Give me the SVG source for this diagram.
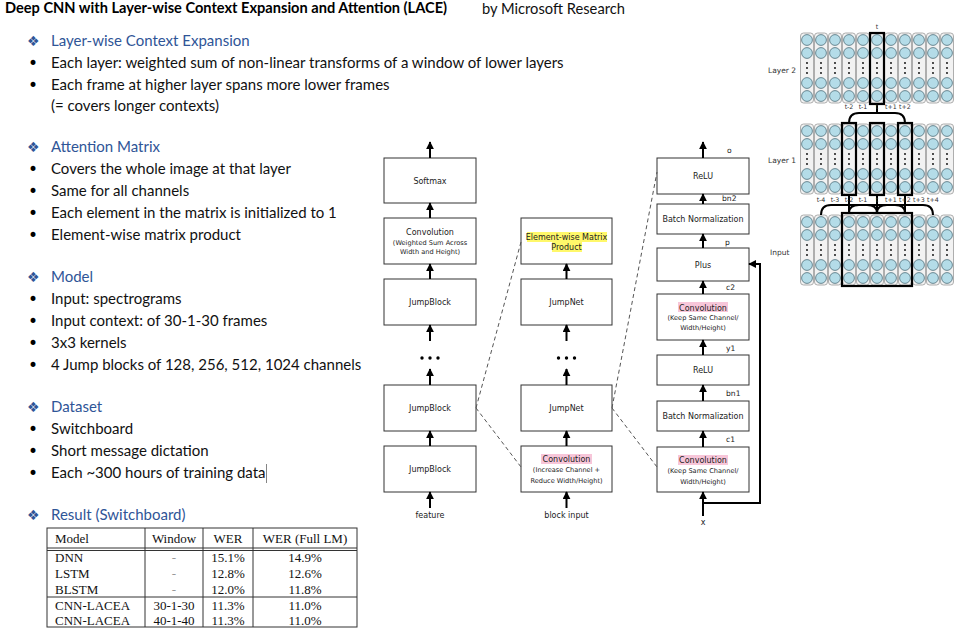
<svg xmlns="http://www.w3.org/2000/svg" xmlns:xlink="http://www.w3.org/1999/xlink" width="963" height="637" viewBox="0 0 963 637">
<defs>
<style>
.t{font-family:Lato,"Open Sans","Liberation Sans",sans-serif;font-size:15px;fill:#111}
.ti{font-family:Lato,"Liberation Sans",sans-serif;font-size:14.6px;font-weight:bold;fill:#000}
.h{font-family:Lato,"Liberation Sans",sans-serif;font-size:15px;fill:#2F5597}
.dm{font-family:"DejaVu Sans",sans-serif;font-size:14px;fill:#2F5597}
.bu{font-family:"DejaVu Sans",sans-serif;font-size:17px;fill:#000}
.bx{fill:#fff;stroke:#333;stroke-width:1}
.l{font-family:"DejaVu Sans",sans-serif;font-size:8px;fill:#222;text-anchor:middle}
.s{font-family:"DejaVu Sans",sans-serif;font-size:6.6px;fill:#222;text-anchor:middle}
.lb{font-family:"DejaVu Sans",sans-serif;font-size:7.6px;fill:#222}
.ar{stroke:#000;stroke-width:2;fill:none;marker-end:url(#ah)}
.ds{stroke:#555;stroke-width:1;stroke-dasharray:4,3;fill:none}
.tb{font-family:"Liberation Serif","Times New Roman",serif;font-size:13px;fill:#111}
.tbc{font-family:"Liberation Serif","Times New Roman",serif;font-size:13px;fill:#111;text-anchor:middle}
.gl{stroke:#333;stroke-width:1}
.ly{font-family:"DejaVu Sans",sans-serif;font-size:7.5px;fill:#333}
.tk{font-family:"DejaVu Sans",sans-serif;font-size:6.3px;fill:#333;text-anchor:middle}
.hl{fill:none;stroke:#000;stroke-width:2.2}
.cn{fill:none;stroke:#000;stroke-width:2}
</style>
<marker id="ah" viewBox="0 0 10 10" refX="9" refY="5" markerWidth="8" markerHeight="8" markerUnits="userSpaceOnUse" orient="auto">
<path d="M0,0 L10,5 L0,10 z" fill="#000"/>
</marker>
<g id="col">
<rect x="0.5" y="0" width="13" height="70" rx="3" fill="#F2F2F2" stroke="#9A9A9A" stroke-width="0.8"/>
<circle cx="7" cy="7" r="5.4" fill="#B4DCE8" stroke="#4F6F7A" stroke-width="0.8"/>
<circle cx="7" cy="20" r="5.4" fill="#B4DCE8" stroke="#4F6F7A" stroke-width="0.8"/>
<circle cx="7" cy="30" r="0.9" fill="#000"/>
<circle cx="7" cy="35" r="0.9" fill="#000"/>
<circle cx="7" cy="40" r="0.9" fill="#000"/>
<circle cx="7" cy="50" r="5.4" fill="#B4DCE8" stroke="#4F6F7A" stroke-width="0.8"/>
<circle cx="7" cy="63" r="5.4" fill="#B4DCE8" stroke="#4F6F7A" stroke-width="0.8"/>
</g>
<g id="row">
<use xlink:href="#col" x="0"/><use xlink:href="#col" x="14"/><use xlink:href="#col" x="28"/><use xlink:href="#col" x="42"/><use xlink:href="#col" x="56"/><use xlink:href="#col" x="70"/><use xlink:href="#col" x="84"/><use xlink:href="#col" x="98"/><use xlink:href="#col" x="112"/><use xlink:href="#col" x="126"/><use xlink:href="#col" x="140"/>
</g>
<g id="dots"><circle cx="-8" cy="0" r="1.7" fill="#000"/><circle cx="0" cy="0" r="1.7" fill="#000"/><circle cx="8" cy="0" r="1.7" fill="#000"/></g>
</defs>
<rect width="963" height="637" fill="#fff"/>

<!-- Title -->
<g id="title">
<text class="ti" x="5" y="13">Deep CNN with Layer-wise Context Expansion and Attention (LACE)</text>
<text class="t" x="482" y="14" style="font-size:14.7px">by Microsoft Research</text>
</g>

<!-- Left text -->
<g id="text-left">
<text class="dm" x="27" y="46">❖</text><text class="h" x="51" y="46">Layer-wise Context Expansion</text>
<text class="bu" x="28" y="69">•</text><text class="t" x="51" y="68">Each layer: weighted sum of non-linear transforms of a window of lower layers</text>
<text class="bu" x="28" y="91">•</text><text class="t" x="51" y="90">Each frame at higher layer spans more lower frames</text>
<text class="t" x="51" y="111">(= covers longer contexts)</text>

<text class="dm" x="27" y="152">❖</text><text class="h" x="51" y="152">Attention Matrix</text>
<text class="bu" x="28" y="175">•</text><text class="t" x="51" y="174">Covers the whole image at that layer</text>
<text class="bu" x="28" y="197">•</text><text class="t" x="51" y="196">Same for all channels</text>
<text class="bu" x="28" y="219">•</text><text class="t" x="51" y="218">Each element in the matrix is initialized to 1</text>
<text class="bu" x="28" y="241">•</text><text class="t" x="51" y="240">Element-wise matrix product</text>

<text class="dm" x="27" y="282">❖</text><text class="h" x="51" y="282">Model</text>
<text class="bu" x="28" y="305">•</text><text class="t" x="51" y="304">Input: spectrograms</text>
<text class="bu" x="28" y="327">•</text><text class="t" x="51" y="326">Input context: of 30-1-30 frames</text>
<text class="bu" x="28" y="349">•</text><text class="t" x="51" y="348">3x3 kernels</text>
<text class="bu" x="28" y="371">•</text><text class="t" x="51" y="370">4 Jump blocks of 128, 256, 512, 1024 channels</text>

<text class="dm" x="27" y="412">❖</text><text class="h" x="51" y="412">Dataset</text>
<text class="bu" x="28" y="435">•</text><text class="t" x="51" y="434">Switchboard</text>
<text class="bu" x="28" y="457">•</text><text class="t" x="51" y="456">Short message dictation</text>
<text class="bu" x="28" y="479">•</text><text class="t" x="51" y="478">Each ~300 hours of training data</text>
<line x1="266.5" y1="464" x2="266.5" y2="483" stroke="#666" stroke-width="0.8"/>

<text class="dm" x="27" y="520">❖</text><text class="h" x="51" y="520">Result (Switchboard)</text>
</g>

<!-- Table -->
<g id="table">
<rect x="47" y="528" width="310" height="99" fill="none" stroke="#333" stroke-width="1"/>
<line class="gl" x1="47" y1="548" x2="357" y2="548"/>
<line class="gl" x1="47" y1="550.5" x2="357" y2="550.5"/>
<line class="gl" x1="47" y1="597" x2="357" y2="597"/>
<line class="gl" x1="145" y1="528" x2="145" y2="627"/>
<line class="gl" x1="203" y1="528" x2="203" y2="627"/>
<line class="gl" x1="253" y1="528" x2="253" y2="627"/>
<text class="tb" x="55" y="543">Model</text>
<text class="tbc" x="174" y="543">Window</text>
<text class="tbc" x="228" y="543">WER</text>
<text class="tbc" x="305" y="543">WER (Full LM)</text>
<text class="tb" x="55" y="562">DNN</text><text class="tbc" x="174" y="562" style="fill:#999">-</text><text class="tbc" x="228" y="562">15.1%</text><text class="tbc" x="305" y="562">14.9%</text>
<text class="tb" x="55" y="578">LSTM</text><text class="tbc" x="174" y="578" style="fill:#999">-</text><text class="tbc" x="228" y="578">12.8%</text><text class="tbc" x="305" y="578">12.6%</text>
<text class="tb" x="55" y="594">BLSTM</text><text class="tbc" x="174" y="594" style="fill:#999">-</text><text class="tbc" x="228" y="594">12.0%</text><text class="tbc" x="305" y="594">11.8%</text>
<text class="tb" x="55" y="610">CNN-LACEA</text><text class="tbc" x="174" y="610">30-1-30</text><text class="tbc" x="228" y="610">11.3%</text><text class="tbc" x="305" y="610">11.0%</text>
<text class="tb" x="55" y="625">CNN-LACEA</text><text class="tbc" x="174" y="625">40-1-40</text><text class="tbc" x="228" y="625">11.3%</text><text class="tbc" x="305" y="625">11.0%</text>
</g>

<!-- Column 1 nodes -->
<g id="softmax"><rect class="bx" x="384" y="158" width="92" height="45"/><text class="l" x="430" y="184">Softmax</text></g>
<g id="conv-weighted"><rect class="bx" x="384" y="218" width="92" height="46"/><text class="l" x="430" y="235">Convolution</text><text class="s" x="430" y="245">(Weighted Sum Across</text><text class="s" x="430" y="254">Width and Height)</text></g>
<g id="jumpblock-top"><rect class="bx" x="384" y="279" width="92" height="46"/><text class="l" x="430" y="305">JumpBlock</text></g>
<g id="dots1"><use xlink:href="#dots" x="430" y="358"/></g>
<g id="jumpblock-mid"><rect class="bx" x="384" y="385" width="92" height="46"/><text class="l" x="430" y="411">JumpBlock</text></g>
<g id="jumpblock-bottom"><rect class="bx" x="384" y="446" width="92" height="46"/><text class="l" x="430" y="472">JumpBlock</text></g>
<g id="feature"><text class="l" x="430" y="518">feature</text></g>

<!-- Column 2 nodes -->
<g id="elementwise"><rect class="bx" x="521" y="218" width="91" height="46"/>
<rect x="527" y="232" width="80" height="10" fill="#FFF86A"/><rect x="552" y="242" width="30" height="10" fill="#FFF86A"/>
<text class="l" x="566.5" y="239.5">Element-wise Matrix</text><text class="l" x="566.5" y="250">Product</text></g>
<g id="jumpnet-top"><rect class="bx" x="521" y="279" width="91" height="46"/><text class="l" x="566.5" y="305">JumpNet</text></g>
<g id="dots2"><use xlink:href="#dots" x="566.5" y="358"/></g>
<g id="jumpnet-mid"><rect class="bx" x="521" y="385" width="91" height="46"/><text class="l" x="566.5" y="411">JumpNet</text></g>
<g id="conv-increase"><rect class="bx" x="521" y="446" width="91" height="46"/>
<rect x="541" y="454" width="51" height="10" fill="#F7C6D9"/>
<text class="l" x="566.5" y="462">Convolution</text><text class="s" x="566.5" y="472">(Increase Channel +</text><text class="s" x="566.5" y="483">Reduce Width/Height)</text></g>
<g id="block-input"><text class="l" x="566.5" y="518">block input</text></g>

<!-- Column 3 nodes -->
<g id="relu2"><rect class="bx" x="657" y="158" width="92" height="36"/><text class="l" x="703" y="179">ReLU</text></g>
<g id="bn2"><rect class="bx" x="657" y="204" width="92" height="30"/><text class="l" x="703" y="222">Batch Normalization</text></g>
<g id="plus"><rect class="bx" x="657" y="248" width="92" height="33"/><text class="l" x="703" y="267.5">Plus</text></g>
<g id="conv2"><rect class="bx" x="657" y="294" width="92" height="46"/>
<rect x="678" y="302" width="50" height="10" fill="#F7C6D9"/>
<text class="l" x="703" y="310.5">Convolution</text><text class="s" x="703" y="320">(Keep Same Channel/</text><text class="s" x="703" y="330">Width/Height)</text></g>
<g id="relu1"><rect class="bx" x="657" y="355" width="92" height="30"/><text class="l" x="703" y="373">ReLU</text></g>
<g id="bn1"><rect class="bx" x="657" y="401" width="92" height="30"/><text class="l" x="703" y="419">Batch Normalization</text></g>
<g id="conv1"><rect class="bx" x="657" y="447" width="92" height="45"/>
<rect x="678" y="455" width="50" height="10" fill="#F7C6D9"/>
<text class="l" x="703" y="463">Convolution</text><text class="s" x="703" y="473">(Keep Same Channel/</text><text class="s" x="703" y="484">Width/Height)</text></g>
<g id="x-label"><text class="l" x="703" y="525">x</text></g>
<g id="edge-labels">
<text class="lb" x="727" y="153">o</text>
<text class="lb" x="722" y="201">bn2</text>
<text class="lb" x="725" y="245">p</text>
<text class="lb" x="726" y="290">c2</text>
<text class="lb" x="726" y="351">y1</text>
<text class="lb" x="726" y="396">bn1</text>
<text class="lb" x="726" y="442">c1</text>
</g>

<!-- Connectors -->
<g id="connectors">
<line class="ar" x1="430" y1="158" x2="430" y2="142"/>
<line class="ar" x1="430" y1="218" x2="430" y2="203"/>
<line class="ar" x1="430" y1="279" x2="430" y2="264"/>
<line class="ar" x1="430" y1="341" x2="430" y2="325"/>
<line class="ar" x1="430" y1="385" x2="430" y2="369"/>
<line class="ar" x1="430" y1="446" x2="430" y2="431"/>
<line class="ar" x1="430" y1="508" x2="430" y2="492"/>

<line class="ar" x1="566.5" y1="279" x2="566.5" y2="264"/>
<line class="ar" x1="566.5" y1="341" x2="566.5" y2="325"/>
<line class="ar" x1="566.5" y1="385" x2="566.5" y2="369"/>
<line class="ar" x1="566.5" y1="446" x2="566.5" y2="431"/>
<line class="ar" x1="566.5" y1="508" x2="566.5" y2="492"/>

<line class="ar" x1="703" y1="158" x2="703" y2="142"/>
<line class="ar" x1="703" y1="204" x2="703" y2="194"/>
<line class="ar" x1="703" y1="248" x2="703" y2="234"/>
<line class="ar" x1="703" y1="294" x2="703" y2="281"/>
<line class="ar" x1="703" y1="355" x2="703" y2="340"/>
<line class="ar" x1="703" y1="401" x2="703" y2="385"/>
<line class="ar" x1="703" y1="447" x2="703" y2="431"/>
<line class="ar" x1="703" y1="516" x2="703" y2="492"/>
<polyline class="ar" points="703,503 760,503 760,264 749,264"/>

<line class="ds" x1="476" y1="408" x2="521" y2="242"/>
<line class="ds" x1="476" y1="408" x2="521" y2="467"/>
<line class="ds" x1="612" y1="408" x2="657" y2="172"/>
<line class="ds" x1="612" y1="408" x2="657" y2="467"/>
</g>

<!-- Layer diagram -->
<g id="layer2">
<use xlink:href="#row" x="800" y="33"/>
<rect class="hl" x="870" y="33" width="14" height="71"/>
<text class="ly" x="768" y="73">Layer 2</text>
<text class="tk" x="877" y="29">t</text>
</g>
<g id="layer1">
<use xlink:href="#row" x="800" y="124"/>
<rect class="hl" x="842" y="123" width="14" height="72"/>
<rect class="hl" x="870" y="123" width="14" height="72"/>
<rect class="hl" x="898" y="123" width="14" height="72"/>
<text class="ly" x="768" y="163">Layer 1</text>
</g>
<g id="input-layer">
<use xlink:href="#row" x="800" y="215"/>
<rect class="hl" x="842" y="213" width="70" height="73"/>
<text class="ly" x="770" y="255">Input</text>
</g>
<g id="layer-connectors">
<path class="cn" d="M877,104 L877,113 M849,123 Q849,113 859,113 L895,113 Q905,113 905,123"/>
<path class="cn" d="M849,195 L849,213 M821,215 Q821,205 831,205 L867,205 Q877,205 877,213"/>
<path class="cn" d="M877,195 L877,213 M849,213 Q849,205 859,205 L895,205 Q905,205 905,213"/>
<path class="cn" d="M905,195 L905,213 M877,213 Q877,205 887,205 L923,205 Q933,205 933,215"/>
</g>
<g id="tick-labels">
<text class="tk" x="849" y="109">t-2</text><text class="tk" x="863" y="109">t-1</text><text class="tk" x="877" y="109">t</text><text class="tk" x="891" y="109">t+1</text><text class="tk" x="905" y="109">t+2</text>
<text class="tk" x="821" y="202">t-4</text><text class="tk" x="835" y="202">t-3</text><text class="tk" x="849" y="202">t-2</text><text class="tk" x="863" y="202">t-1</text><text class="tk" x="877" y="202">t</text><text class="tk" x="891" y="202">t+1</text><text class="tk" x="905" y="202">t+2</text><text class="tk" x="919" y="202">t+3</text><text class="tk" x="933" y="202">t+4</text>
</g>
</svg>
